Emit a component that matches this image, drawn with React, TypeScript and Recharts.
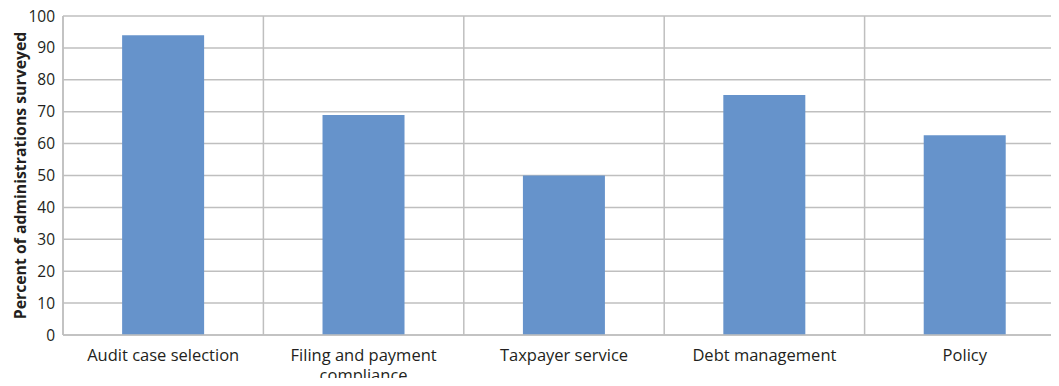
import { BarChart, Bar, XAxis, YAxis, CartesianGrid, Text } from 'recharts'

const categories = [
  'Audit case selection',
  'Filing and payment compliance',
  'Taxpayer service',
  'Debt management',
  'Policy',
]
const percentSurveyed = [94, 69, 50, 75.2, 62.6]
const yTicks = [0, 10, 20, 30, 40, 50, 60, 70, 80, 90, 100]

const data = categories.map((name, i) => ({ name, value: percentSurveyed[i] }))

const FONT = '"Open Sans", "Noto Sans", sans-serif'
const TEXT = '#231f20'
const GRID = '#bfbfbf'

const CategoryTick = (props: any) => {
  const { x, y, payload } = props
  return (
    <Text
      x={x}
      y={y + 6}
      width={180}
      textAnchor="middle"
      verticalAnchor="start"
      fontFamily={FONT}
      fontSize={16.5}
      fill={TEXT}
      lineHeight={20}
    >
      {payload.value}
    </Text>
  )
}

export default function App() {
  return (
    <div style={{ margin: -8, width: 1059, height: 386, overflow: 'hidden', background: '#fff' }}>
      <BarChart
        width={1080}
        height={386}
        data={data}
        margin={{ top: 16, right: 15, left: 0, bottom: 0 }}
        barCategoryGap="29.5%"
      >
        <CartesianGrid
          stroke={GRID}
          strokeWidth={1.5}
          verticalCoordinatesGenerator={({ offset }: any) =>
            categories.map((_, i) => offset.left + (i * offset.width) / categories.length).concat([offset.left + offset.width])
          }
        />
        <XAxis
          dataKey="name"
          interval={0}
          tickLine={false}
          axisLine={{ stroke: GRID, strokeWidth: 1.5 }}
          height={51}
          tick={<CategoryTick />}
        />
        <YAxis
          domain={[0, 100]}
          ticks={yTicks}
          interval={0}
          width={63}
          tickLine={false}
          axisLine={{ stroke: GRID, strokeWidth: 1.5 }}
          tick={{ fontFamily: FONT, fontSize: 15.5, fill: TEXT }}
          label={{
            value: 'Percent of administrations surveyed',
            angle: -90,
            position: 'insideLeft',
            offset: 20,
            style: { textAnchor: 'middle', fontFamily: FONT, fontSize: 15.8, fontWeight: 700, fill: TEXT },
          }}
        />
        <Bar dataKey="value" fill="#6693cb" isAnimationActive={false} />
      </BarChart>
    </div>
  )
}
